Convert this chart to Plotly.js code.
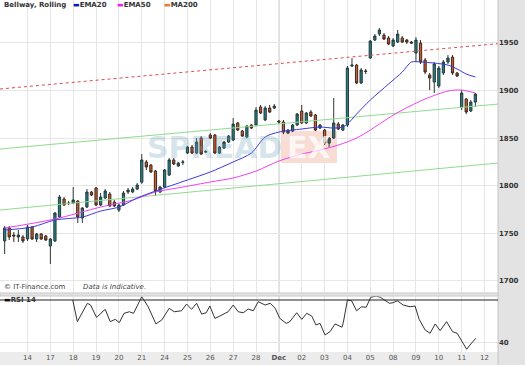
<!DOCTYPE html>
<html>
<head>
<meta charset="utf-8">
<script src="https://cdn.plot.ly/plotly-3.0.1.min.js"></script>
<style>html,body{margin:0;padding:0;background:#fff;}#chart{width:525px;height:365px;}</style>
</head>
<body>
<div id="chart"></div>
<script>
// ---- data (bar index = 5 bars per trading day) ----
const barIndex = Array.from({length: 104}, (_, i) => i);
const openP = [1742.0,1755.6,1748.3,1746.2,1746.2,1744.1,1756.7,1744.1,1749.3,1747.2,
1736.7,1742.0,1767.1,1786.0,1781.8,1781.8,1783.9,1766.1,1777.6,1793.4,
1797.6,1779.7,1787.1,1791.3,1782.9,1774.5,1779.7,1793.4,1793.4,1796.5,
1803.7,1824.9,1821.7,1815.4,1793.4,1798.6,1811.2,1827.0,1820.7,1824.4,
1834.3,1840.6,1834.3,1850.0,1835.3,1853.2,1853.2,1834.3,1839.5,1845.8,
1847.9,1865.8,1857.4,1851.1,1863.7,1863.7,1882.6,1869.0,1881.5,1881.5,
1867.9,1866.9,1855.3,1857.4,1863.7,1878.4,1865.8,1877.3,1874.2,1860.5,
1858.4,1844.8,1850.0,1864.7,1858.4,1863.7,1925.6,1926.6,1907.8,1920.4,
1934.0,1952.9,1959.2,1958.1,1955.0,1946.6,1950.8,1955.0,1952.9,1950.8,
1939.2,1949.7,1931.9,1916.2,1908.8,1904.6,1918.3,1929.8,1935.0,1918.3,
1882.6,1891.0,1878.4,1887.8];
const highP = [1757.7,1757.7,1751.4,1753.5,1748.3,1758.8,1757.7,1750.4,1750.4,1748.3,
1745.1,1772.4,1790.2,1788.1,1783.9,1798.6,1785.0,1777.6,1796.5,1794.4,
1798.6,1792.3,1796.5,1793.4,1785.0,1780.8,1794.4,1797.6,1798.6,1802.8,
1833.2,1827.0,1822.8,1816.5,1799.7,1817.5,1829.1,1829.1,1824.9,1827.0,
1841.6,1842.7,1850.0,1852.1,1837.4,1855.3,1854.2,1841.6,1846.9,1853.2,
1871.0,1866.9,1858.4,1863.7,1864.7,1882.6,1884.7,1883.6,1884.7,1885.7,
1869.0,1869.0,1859.5,1864.7,1876.3,1884.7,1877.3,1879.4,1875.2,1864.7,
1859.5,1851.1,1892.0,1866.9,1864.7,1925.6,1934.0,1927.7,1923.5,1922.5,
1952.9,1959.2,1965.5,1960.2,1957.1,1955.0,1963.4,1957.1,1953.9,1951.8,
1956.0,1952.9,1934.0,1918.3,1929.8,1925.6,1931.9,1937.1,1937.1,1919.3,
1900.4,1892.0,1889.9,1897.3];
const lowP = [1728.3,1743.0,1740.9,1740.9,1739.9,1742.0,1743.0,1740.9,1743.0,1742.0,
1717.8,1740.9,1766.1,1778.7,1779.7,1780.8,1760.9,1760.9,1776.6,1789.2,
1778.7,1778.7,1786.0,1777.6,1777.6,1772.4,1778.7,1791.3,1792.3,1795.5,
1802.0,1816.5,1813.3,1789.2,1792.3,1797.6,1810.2,1821.7,1819.6,1821.7,
1833.2,1833.2,1833.2,1832.2,1834.3,1849.0,1833.2,1833.2,1838.5,1844.8,
1846.9,1857.4,1851.1,1850.0,1859.5,1862.6,1875.2,1867.9,1876.3,1880.5,
1864.7,1854.2,1854.2,1856.3,1862.6,1864.7,1864.7,1872.1,1857.4,1859.5,
1842.7,1840.6,1849.0,1858.4,1857.4,1861.6,1924.5,1906.7,1906.7,1917.2,
1933.0,1951.8,1957.1,1952.9,1947.6,1945.5,1949.7,1949.7,1948.7,1948.7,
1929.8,1927.7,1917.2,1900.4,1897.3,1902.5,1916.2,1927.7,1916.2,1914.1,
1879.4,1875.2,1877.3,1882.6];
const closeP = [1755.6,1746.2,1747.2,1748.3,1742.0,1756.7,1744.1,1749.3,1744.1,1743.0,
1744.1,1771.3,1788.1,1779.7,1781.3,1785.0,1767.1,1776.6,1793.4,1790.2,
1779.7,1788.1,1794.4,1778.7,1778.7,1779.7,1792.3,1795.5,1796.5,1800.7,
1827.0,1819.6,1814.4,1794.4,1798.6,1816.5,1827.0,1822.8,1823.8,1824.9,
1840.6,1834.3,1845.8,1833.2,1835.8,1850.0,1834.3,1840.6,1845.8,1852.1,
1864.7,1858.4,1852.1,1862.6,1860.5,1879.4,1876.3,1881.5,1877.3,1883.6,
1866.9,1856.3,1858.4,1863.7,1875.2,1865.8,1876.3,1873.1,1858.4,1863.7,
1844.8,1850.0,1865.8,1859.5,1863.7,1923.5,1926.6,1907.8,1921.4,1919.9,
1951.8,1957.1,1963.4,1953.9,1948.7,1952.9,1959.2,1950.8,1950.8,1949.7,
1952.9,1929.8,1919.3,1913.0,1927.7,1923.5,1929.8,1934.0,1918.3,1915.1,
1897.3,1877.3,1887.8,1896.2];

const ema20Bar = [0,6,11,17,21,25,29,33,40,45,50,54,57,60,65,69,72,74,75,77,80,84,87,89,91,94,97,99,101,103];
const ema20Val = [1753.5,1756.6,1764.0,1767.1,1773.4,1777.6,1787.1,1794.4,1806.0,1814.4,1824.9,1834.3,1851.1,1856.3,1859.5,1861.6,1860.5,1861.6,1864.7,1875.2,1889.9,1906.7,1919.3,1929.8,1929.8,1928.7,1926.6,1922.5,1917.2,1914.1];
const ema50Bar = [0,11,21,28,33,39,45,50,55,60,65,69,73,77,80,84,87,92,97,100,103];
const ema50Val = [1755.6,1765.0,1777.6,1785.0,1793.4,1798.6,1803.9,1808.1,1815.4,1825.9,1833.2,1837.4,1842.7,1850.0,1858.4,1871.0,1879.4,1891.0,1899.4,1900.4,1897.3];

const channelBar = [-1.02, 107.95];
const redTrend = [1901.5, 1949.1];
const greenUpper = [1838.5, 1885.7];
const greenLower = [1774.5, 1823.8];

const rsiBar = [14.9,15.9,18.1,18.8,20.1,22.0,23.1,24.2,25.1,26.1,27.3,28.2,30.0,31.4,33.1,34.4,36.0,37.1,38.7,39.8,40.9,42.0,43.1,44.1,44.9,46.0,47.1,48.9,50.0,51.1,52.2,53.3,54.4,55.5,57.0,58.1,59.2,60.2,61.6,62.4,63.9,65.0,66.1,67.2,68.1,69.0,70.1,71.2,72.3,73.8,74.1,75.0,75.9,77.0,78.1,79.1,80.1,81.3,82.2,84.2,85.0,85.9,87.2,88.7,89.8,90.7,92.0,93.1,94.2,95.3,96.7,98.0,99.0,100.2,101.1,102.0,103.1];
const rsiVal = [70.0,54.9,67.7,66.5,57.9,63.5,54.9,56.5,54.2,60.7,61.8,60.7,72.3,65.3,53.3,56.1,64.2,61.8,62.5,67.2,63.5,67.7,60.2,61.1,65.8,57.2,58.8,61.8,66.5,61.8,61.1,63.7,62.5,68.8,66.5,67.7,64.2,57.2,53.7,54.9,61.1,56.5,60.7,58.8,52.6,53.7,45.6,47.9,53.3,51.0,54.2,70.0,69.5,62.5,65.3,64.9,71.9,72.8,71.9,67.7,68.1,69.5,66.5,65.3,65.8,56.5,49.1,46.8,53.3,48.6,54.9,47.9,46.8,39.8,35.6,39.3,43.3];
const rsiLevel = 70;

const dayTickBar = [5,10,15,20,25,30,35,40,45,50,55,60,65,70,75,80,85,90,95,100,105];
const dayTickText = ['14','17','18','19','20','21','24','25','26','27','28','<b>Dec</b>','02','03','04','05','08','09','10','11','12'];
const priceTicks = [1700,1750,1800,1850,1900,1950];
const rsiTicks = [40];

// ---- geometry helpers (pixel -> paper) ----
const W = 498, H = 352;
const px = v => v / W;
const py = v => (H - v) / H;
const FONT = 'DejaVu Sans';

const traces = [
  {x: channelBar, y: greenLower, type: 'scatter', mode: 'lines', line: {color: '#8fdc8f', width: 1}, hoverinfo: 'skip'},
  {x: channelBar, y: greenUpper, type: 'scatter', mode: 'lines', line: {color: '#8fdc8f', width: 1}, hoverinfo: 'skip'},
  {x: channelBar, y: redTrend, type: 'scatter', mode: 'lines', line: {color: '#e04a4a', width: 1, dash: 'dot'}, hoverinfo: 'skip'},
  {x: ema50Bar, y: ema50Val, type: 'scatter', mode: 'lines', line: {color: '#ee40ee', width: 1, shape: 'spline', smoothing: 0.8}, hoverinfo: 'skip'},
  {x: ema20Bar, y: ema20Val, type: 'scatter', mode: 'lines', line: {color: '#3a3ae0', width: 1, shape: 'spline', smoothing: 0.8}, hoverinfo: 'skip'},
  {x: barIndex, open: openP, high: highP, low: lowP, close: closeP, type: 'candlestick',
   increasing: {line: {color: '#2a3a3a', width: 1}, fillcolor: '#1f7f86'},
   decreasing: {line: {color: '#3a2a22', width: 1}, fillcolor: '#d05a28'},
   whiskerwidth: 0, hoverinfo: 'skip'},
  {x: rsiBar, y: rsiVal, type: 'scatter', mode: 'lines', yaxis: 'y2', line: {color: '#333', width: 1}, hoverinfo: 'skip'}
];

const layout = {
  width: 525, height: 365,
  margin: {l: 0, r: 27, t: 0, b: 13},
  paper_bgcolor: '#ffffff', plot_bgcolor: '#ffffff',
  showlegend: false,
  font: {family: FONT, size: 7, color: '#444'},
  xaxis: {
    range: [-1.02, 107.95], anchor: 'y2', type: 'linear',
    tickvals: dayTickBar, ticktext: dayTickText, ticks: '',
    showgrid: true, gridcolor: '#e6e6e6', gridwidth: 1, zeroline: false,
    showline: false, rangeslider: {visible: false},
    tickfont: {family: FONT, size: 7, color: '#555'}
  },
  yaxis: {
    domain: [py(293), 1], range: [1687.4, 1994.9], side: 'right', anchor: 'x',
    tickvals: priceTicks, ticktext: priceTicks.map(v => '<b>' + v + '</b>'),
    showgrid: true, gridcolor: '#e6e6e6', zeroline: false, ticks: '',
    tickfont: {family: FONT, size: 7, color: '#333'}
  },
  yaxis2: {
    domain: [0, py(296)], range: [33.7, 72.8], side: 'right', anchor: 'x',
    tickvals: rsiTicks, ticktext: rsiTicks.map(v => '<b>' + v + '</b>'),
    showgrid: true, gridcolor: '#e6e6e6', zeroline: false, ticks: '',
    tickfont: {family: FONT, size: 7, color: '#333'}
  },
  shapes: [
    // right axis panel
    {type: 'rect', xref: 'paper', yref: 'paper', x0: 1, x1: 525 / W, y0: -13 / H, y1: 1,
     fillcolor: '#e3e3e3', line: {width: 0}, layer: 'below'},
    {type: 'line', xref: 'paper', yref: 'paper', x0: 1, x1: 1, y0: -13 / H, y1: 1,
     line: {color: '#c4c4c4', width: 1}},
    // bottom date band
    {type: 'rect', xref: 'paper', yref: 'paper', x0: 0, x1: 1, y0: -13 / H, y1: 0,
     fillcolor: '#ececec', line: {width: 0}, layer: 'below'},
    // separator between panels
    {type: 'rect', xref: 'paper', yref: 'paper', x0: 0, x1: 1, y0: py(296), y1: py(293),
     fillcolor: '#e4e4e4', line: {color: '#c8c8c8', width: 1}},
    // Dec marker line
    {type: 'line', xref: 'x', yref: 'paper', x0: 60, x1: 60, y0: 0, y1: 1,
     line: {color: '#a8a8a8', width: 1}, layer: 'below'},
    // RSI level line
    {type: 'line', xref: 'paper', yref: 'y2', x0: 0, x1: 1, y0: rsiLevel, y1: rsiLevel,
     line: {color: '#222', width: 1}},
    // watermark box
    {type: 'rect', xref: 'paper', yref: 'paper', x0: px(281), x1: px(337), y0: py(163), y1: py(131),
     fillcolor: 'rgba(236,140,110,0.30)', line: {width: 0}, layer: 'below'}
  ],
  annotations: [
    {xref: 'paper', yref: 'paper', x: px(214), y: py(147), text: '<b>SPREAD</b>', showarrow: false,
     xanchor: 'center', yanchor: 'middle', font: {family: FONT, size: 30, color: 'rgba(110,165,185,0.30)'}},
    {xref: 'paper', yref: 'paper', x: px(309), y: py(147), text: '<b>EX</b>', showarrow: false,
     xanchor: 'center', yanchor: 'middle', font: {family: FONT, size: 30, color: 'rgba(255,255,255,0.75)'}},
    {xref: 'paper', yref: 'paper', x: px(2), y: py(5), text: '<b>Bellway, Rolling</b>', showarrow: false,
     xanchor: 'left', yanchor: 'middle', font: {family: FONT, size: 7, color: '#333'}},
    {xref: 'paper', yref: 'paper', x: px(71), y: py(5), showarrow: false, xanchor: 'left', yanchor: 'middle',
     text: '<span style="color:#1010c8">▬</span><b>EMA20</b>', font: {family: FONT, size: 7, color: '#333'}},
    {xref: 'paper', yref: 'paper', x: px(115), y: py(5), showarrow: false, xanchor: 'left', yanchor: 'middle',
     text: '<span style="color:#ee22ee">▬</span><b>EMA50</b>', font: {family: FONT, size: 7, color: '#333'}},
    {xref: 'paper', yref: 'paper', x: px(162), y: py(5), showarrow: false, xanchor: 'left', yanchor: 'middle',
     text: '<span style="color:#f07830">▬</span><b>MA200</b>', font: {family: FONT, size: 7, color: '#333'}},
    {xref: 'paper', yref: 'paper', x: px(2), y: py(287), showarrow: false, xanchor: 'left', yanchor: 'middle',
     text: '© IT-Finance.com', font: {family: FONT, size: 7, color: '#444'}},
    {xref: 'paper', yref: 'paper', x: px(81), y: py(287), showarrow: false, xanchor: 'left', yanchor: 'middle',
     text: '<i>Data is Indicative.</i>', font: {family: FONT, size: 7, color: '#444'}},
    {xref: 'paper', yref: 'paper', x: px(2), y: py(300), showarrow: false, xanchor: 'left', yanchor: 'middle',
     text: '<span style="color:#111">▬</span><b>RSI 14</b>', font: {family: FONT, size: 7, color: '#333'}}
  ]
};

Plotly.newPlot('chart', traces, layout, {staticPlot: true, displayModeBar: false});
</script>
</body>
</html>
